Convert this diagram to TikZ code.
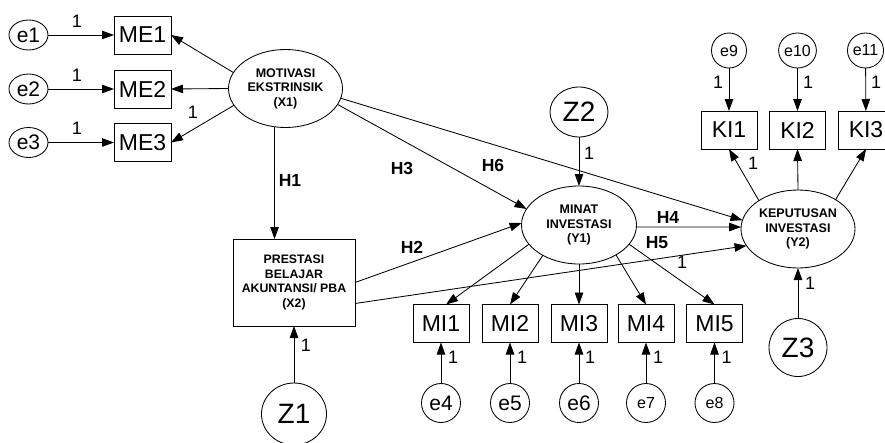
\documentclass[tikz,border=0pt]{standalone}
\usepackage{fontspec}
\setmainfont{Liberation Sans}
\usetikzlibrary{shapes.geometric,arrows.meta,calc}
\begin{document}
\begin{tikzpicture}[x=1pt,y=-1pt,
  every node/.style={inner sep=0pt, outer sep=0pt},
  ln/.style={line width=0.85pt},
  arr/.style={ln, -{Triangle[length=12pt,width=8.5pt]}},
  obs/.style={draw, ln, rectangle, minimum width=56pt, minimum height=38pt, font=\fontsize{23}{26}\selectfont},
  lat/.style={draw, ln, ellipse, minimum width=114pt, minimum height=78pt, align=center, font=\bfseries\fontsize{12.5}{14.5}\selectfont},
  errb/.style={draw, ln, ellipse, minimum width=39pt, minimum height=39pt, font=\fontsize{21}{24}\selectfont},
  errs/.style={draw, ln, ellipse, minimum width=35pt, minimum height=35pt, font=\fontsize{16}{19}\selectfont},
  dist/.style={draw, ln, ellipse, font=\fontsize{28}{32}\selectfont},
  one/.style={font=\fontsize{18}{21}\selectfont},
  hyp/.style={font=\bfseries\fontsize{17.5}{20}\selectfont}
]
\useasboundingbox (0,0) rectangle (885,442);
\clip (0,0) rectangle (885,442);

% latent variables
\node[lat] (X1) at (285.5,88.5) {MOTIVASI\\EKSTRINSIK\\(X1)};
\node[lat, minimum width=115pt] (Y1) at (579,225) {MINAT\\INVESTASI\\(Y1)};
\node[lat] (Y2) at (798,229) {KEPUTUSAN\\INVESTASI\\(Y2)};
\node[draw, ln, rectangle, minimum width=122pt, minimum height=87pt, align=center,
      font=\bfseries\fontsize{12.3}{14.8}\selectfont] (X2) at (294,282.5)
      {PRESTASI\\BELAJAR\\AKUNTANSI/ PBA\\(X2)};

% indicators
\node[obs, minimum width=57pt] (ME1) at (142.5,35) {ME1};
\node[obs, minimum width=57pt] (ME2) at (142.5,89) {ME2};
\node[obs, minimum width=57pt] (ME3) at (142.5,142.5) {ME3};
\node[obs] (KI1) at (729,130) {KI1};
\node[obs] (KI2) at (797.5,130) {KI2};
\node[obs] (KI3) at (866,130) {KI3};
\node[obs] (MI1) at (441,323.5) {MI1};
\node[obs] (MI2) at (510,323.5) {MI2};
\node[obs] (MI3) at (579,323.5) {MI3};
\node[obs] (MI4) at (646,323.5) {MI4};
\node[obs] (MI5) at (714.5,323.5) {MI5};

% errors
\node[errb, minimum height=30pt] (e1) at (28.5,35) {e1};
\node[errb, minimum height=30pt] (e2) at (28.5,89) {e2};
\node[errb, minimum height=30pt] (e3) at (28.5,142.5) {e3};
\node[errs] (e9) at (729,50.5) {e9};
\node[errs] (e10) at (797.5,50.5) {e10};
\node[errs] (e11) at (865.5,50.5) {e11};
\node[errb] (e4) at (441,403) {e4};
\node[errb] (e5) at (510,403) {e5};
\node[errb] (e6) at (579,403) {e6};
\node[errb, font=\fontsize{16}{19}\selectfont] (e7) at (646,403) {e7};
\node[errb, font=\fontsize{16}{19}\selectfont] (e8) at (714.5,403) {e8};

% disturbances
\node[dist, minimum width=65pt, minimum height=62pt] (Z1) at (294,414) {Z1};
\node[dist, minimum width=58pt, minimum height=50pt] (Z2) at (579,112) {Z2};
\node[dist, minimum width=58pt, minimum height=58pt] (Z3) at (798,347.5) {Z3};

% connectors
\draw[arr] (e1) -- (ME1);
\draw[arr] (e2) -- (ME2);
\draw[arr] (e3) -- (ME3);
\draw[arr] (X1.163) -- (ME1.east);
\draw[arr] (X1.180) -- (ME2.east);
\draw[arr] (X1.198) -- (ME3.east);
\draw[arr] (X1.254) -- (X1.254 |- X2.north);
\draw[arr] (X1.-17) -- (Y1.163);
\draw[arr] (X1.-10) -- (Y2.171);
\draw[arr] (X2.east) -- (Y1.178);
\draw[arr] (X2.-19) -- (Y2.198);
\draw[arr] (Z1.north) -- (Z1.north |- X2.south);
\draw[arr] (Z2.south) -- (Z2.south |- Y1.north);
\draw[arr] (Y1.-2) -- (Y2.178);
\draw[arr] (Y1.201) -- (MI1.75);
\draw[arr] (Y1.220) -- (MI2.north);
\draw[arr] (Y1.south) -- (MI3.north);
\draw[arr] (Y1.-39) -- (MI4.north);
\draw[arr] (Y1.-21) -- (MI5.north);
\draw[arr] (Y2.144) -- (KI1.south);
\draw[arr] (Y2.north) -- (KI2.south);
\draw[arr] (Y2.38) -- (KI3.south);
\draw[arr] (Z3.north) -- (Z3.north |- Y2.south);
\draw[arr] (e9) -- (KI1);
\draw[arr] (e10) -- (KI2);
\draw[arr] (e11) -- (KI3);
\draw[arr] (e4) -- (MI1);
\draw[arr] (e5) -- (MI2);
\draw[arr] (e6) -- (MI3);
\draw[arr] (e7) -- (MI4);
\draw[arr] (e8) -- (MI5);

% weights "1"
\node[one] (w1) at (77,21) {1};
\node[one] (w2) at (77,75) {1};
\node[one] (w3) at (77,128) {1};
\node[one] (w4) at (193,112) {1};
\node[one] (w5) at (589,153) {1};
\node[one] (w6) at (753,163) {1};
\node[one] (w7) at (718,82) {1};
\node[one] (w8) at (808,82) {1};
\node[one] (w9) at (876,82) {1};
\node[one] (w10) at (682,262) {1};
\node[one] (w11) at (810,283) {1};
\node[one] (w12) at (306,345) {1};
\node[one] (w13) at (453,357) {1};
\node[one] (w14) at (522,357) {1};
\node[one] (w15) at (590,357) {1};
\node[one] (w16) at (658,357) {1};
\node[one] (w17) at (726.5,357) {1};

% hypotheses
\node[hyp] (H1) at (290,180) {H1};
\node[hyp] (H3) at (402,168) {H3};
\node[hyp] (H6) at (493,165) {H6};
\node[hyp] (H2) at (412,247) {H2};
\node[hyp] (H4) at (668,217) {H4};
\node[hyp] (H5) at (657,243) {H5};
\end{tikzpicture}
\end{document}
